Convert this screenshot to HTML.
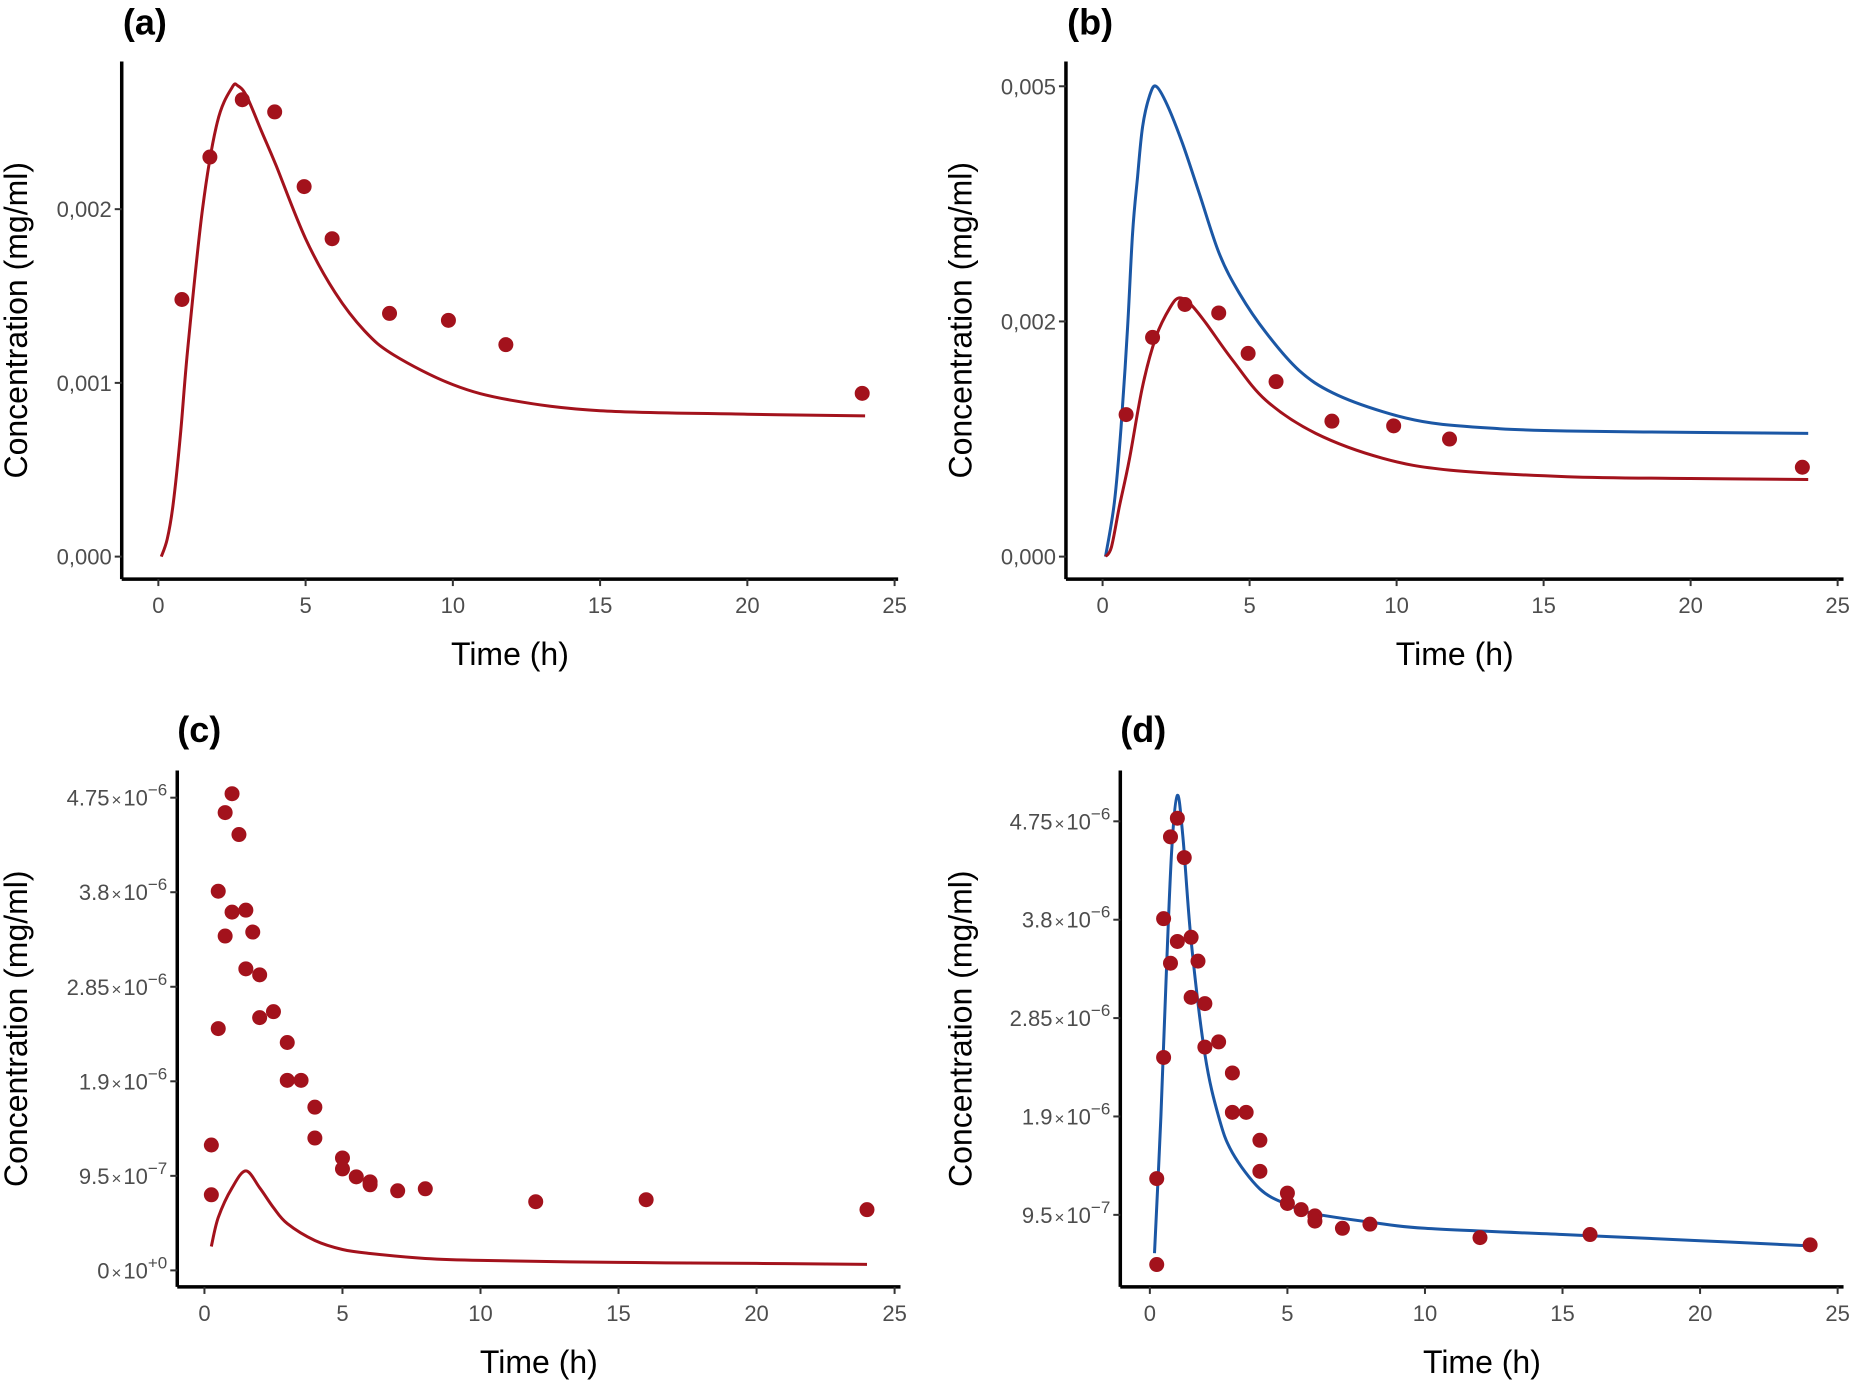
<!DOCTYPE html>
<html><head><meta charset="utf-8"><style>
html,body{margin:0;padding:0;background:#fff;}
svg{display:block;font-family:"Liberation Sans",sans-serif;}
</style></head><body>
<svg id="chart" width="1853" height="1384" viewBox="0 0 1853 1384"></svg>
<script>
// ---- Panel (a) data ----
const aObsT=[0.8,1.75,2.85,3.95,4.95,5.9,7.85,9.85,11.8,23.9];
const aObsV=[0.00148,0.0023,0.00263,0.00256,0.00213,0.00183,0.0014,0.00136,0.00122,0.00094];
const aFitT=[0.1,0.3,0.5,0.75,1,1.5,2,2.5,2.7,3,3.5,4,5,6,7,8,10,12,15,20,24];
const aFitV=[0,0.0001,0.0003,0.0007,0.0012,0.002,0.0025,0.0027,0.00271,0.00265,0.00245,0.00225,0.00183,0.00152,0.0013,0.00116,0.00099,0.0009,0.00084,0.00082,0.00081];
// ---- Panel (b) data ----
const bObsT=[0.8,1.7,2.8,3.95,4.95,5.9,7.8,9.9,11.8,23.8];
const bObsV=[0.00151,0.00233,0.00268,0.00259,0.00216,0.00186,0.00144,0.00139,0.00125,0.00095];
const bRedT=[0.1,0.3,0.57,0.91,1.36,1.82,2.3,2.61,3.0,3.52,4.42,5.56,7.25,9.53,11.8,15.8,20,24];
const bRedV=[0,0.0001,0.00053,0.00103,0.00181,0.00234,0.00265,0.00275,0.00268,0.00248,0.00209,0.00166,0.00131,0.001045,0.00092,0.00085,0.00083,0.00082];
const bBlueT=[0.1,0.4,0.63,0.85,1.02,1.19,1.36,1.6,1.82,2.2,2.72,3.29,3.97,4.65,5.56,6.68,7.83,9.53,11.2,13.5,15.8,20,24];
const bBlueV=[0,0.00057,0.00138,0.00244,0.00344,0.00404,0.00457,0.0049,0.005,0.0048,0.00439,0.00386,0.00322,0.0028,0.00238,0.00198,0.00174,0.00154,0.00142,0.00136,0.001335,0.00132,0.00131];
// ---- Panel (c)/(d) observed ----
const cObsT=[0.25,0.25,0.5,0.5,0.75,0.75,1,1,1.25,1.5,1.5,1.75,2,2,2.5,3,3,3.5,4,4,5,5,5.5,6,6,7,8,12,16,24];
const cObsV=[0.76e-6,1.26e-6,2.43e-6,3.81e-6,3.36e-6,4.6e-6,3.6e-6,4.79e-6,4.38e-6,3.62e-6,3.03e-6,3.4e-6,2.97e-6,2.54e-6,2.6e-6,2.29e-6,1.91e-6,1.91e-6,1.64e-6,1.33e-6,1.13e-6,1.02e-6,0.94e-6,0.89e-6,0.86e-6,0.8e-6,0.82e-6,0.69e-6,0.71e-6,0.61e-6];
const cFitT=[0.25,0.5,1,1.5,2,2.5,3,4,5,6,8,10,15,20,24];
const cFitV=[0.24e-6,0.53e-6,0.83e-6,1.0e-6,0.83e-6,0.63e-6,0.47e-6,0.3e-6,0.21e-6,0.17e-6,0.12e-6,0.1e-6,0.08e-6,0.07e-6,0.06e-6];
const dObsV=[0.47e-6,1.3e-6,2.47e-6,3.81e-6,3.38e-6,4.6e-6,3.59e-6,4.78e-6,4.4e-6,3.63e-6,3.05e-6,3.4e-6,2.99e-6,2.57e-6,2.62e-6,2.32e-6,1.94e-6,1.94e-6,1.67e-6,1.37e-6,1.16e-6,1.06e-6,1.0e-6,0.94e-6,0.89e-6,0.82e-6,0.86e-6,0.73e-6,0.76e-6,0.66e-6];
const dFitT=[0.17,0.4,0.6,0.8,1.0,1.2,1.5,2,2.5,3,4,5,6,8,10,15,20,24];
const dFitV=[0.58e-6,1.9e-6,3.3e-6,4.5e-6,5.0e-6,4.6e-6,3.6e-6,2.5e-6,1.9e-6,1.55e-6,1.2e-6,1.05e-6,0.96e-6,0.88e-6,0.82e-6,0.76e-6,0.7e-6,0.65e-6];
// ---- Tick labels ----
const xTicks=[0,5,10,15,20,25];
const aTicks=[0,0.001,0.002];
const aLabels=["0,000","0,001","0,002"];
const bTicks=[0,0.0025,0.005];
const bLabels=["0,000","0,002","0,005"];
const cTicks=[0,0.95e-6,1.9e-6,2.85e-6,3.8e-6,4.75e-6];
const cMant=["0","9.5","1.9","2.85","3.8","4.75"];
const cExp=["+0","\u22127","\u22126","\u22126","\u22126","\u22126"];
const dTicks=[0.95e-6,1.9e-6,2.85e-6,3.8e-6,4.75e-6];
const dMant=["9.5","1.9","2.85","3.8","4.75"];
const dExp=["\u22127","\u22126","\u22126","\u22126","\u22126"];

const S=1853/1568;
const RED="#a3121c", BLUE="#1b57a5";
const svg=document.getElementById('chart');
const NS="http://www.w3.org/2000/svg";
function mk(tag,attrs,parent){const e=document.createElementNS(NS,tag);for(const k in attrs)e.setAttribute(k,attrs[k]);(parent||svg).appendChild(e);return e;}
function smooth(pts){
  let d='M'+pts[0][0].toFixed(1)+','+pts[0][1].toFixed(1);
  for(let i=0;i<pts.length-1;i++){
    const p0=pts[i-1]||pts[i],p1=pts[i],p2=pts[i+1],p3=pts[i+2]||p2;
    const c1=[p1[0]+(p2[0]-p0[0])/6,p1[1]+(p2[1]-p0[1])/6];
    const c2=[p2[0]-(p3[0]-p1[0])/6,p2[1]-(p3[1]-p1[1])/6];
    d+=`C${c1[0].toFixed(1)},${c1[1].toFixed(1)} ${c2[0].toFixed(1)},${c2[1].toFixed(1)} ${p2[0].toFixed(1)},${p2[1].toFixed(1)}`;
  }
  return d;
}

function panel(cfg){
  const g=mk('g',{});
  
  
  const xs=t=>S*(cfg.x0+(cfg.x25-cfg.x0)*t/25);
  const ys=v=>S*(cfg.yA+(cfg.yB-cfg.yA)*(v-cfg.vA)/(cfg.vB-cfg.vA));
  const lab=mk('text',{x:S*cfg.lx,y:S*cfg.ly,'font-size':36,'font-weight':'bold',fill:'#000'},g);
  lab.textContent='('+cfg.id+')';
  
  
  const ya=mk('line',{x1:S*cfg.ax,y1:S*cfg.top,x2:S*cfg.ax,y2:S*cfg.bot,stroke:'#000','stroke-width':3.5},g);
  
  
  const xa=mk('line',{x1:S*cfg.ax,y1:S*cfg.bot,x2:S*cfg.right,y2:S*cfg.bot,stroke:'#000','stroke-width':3.5},g);
  
  
  xTicks.forEach(t=>{
    mk('line',{x1:xs(t),x2:xs(t),y1:S*cfg.bot,y2:S*cfg.bot+7,stroke:'#333','stroke-width':2},g);
    const tx=mk('text',{x:xs(t),y:S*cfg.bot+34,'font-size':22,fill:'#4d4d4d','text-anchor':'middle'},g);
    tx.textContent=t;
    
    
  });
  cfg.yt.forEach((v,i)=>{
    const y=ys(v);
    mk('line',{x1:S*cfg.ax-7,x2:S*cfg.ax,y1:y,y2:y,stroke:'#333','stroke-width':2},g);
    const tx=mk('text',{x:S*cfg.ax-10,y:y+8,'font-size':22,fill:'#4d4d4d','text-anchor':'end'},g);
    
    
    if(cfg.mant){
      const a=mk('tspan',{},tx);a.textContent=cfg.mant[i];
      const b=mk('tspan',{'font-size':17,dx:2},tx);b.textContent='\u00d7';
      const c=mk('tspan',{dx:2},tx);c.textContent='10';
      const d=mk('tspan',{'font-size':17,dy:-10},tx);d.textContent=cfg.exp[i];
    } else tx.textContent=cfg.labels[i];
  });
  const cy=S*(cfg.top+cfg.bot)/2;
  const yt=mk('text',{x:0,y:0,'font-size':32,fill:'#000','text-anchor':'middle',transform:`translate(${S*cfg.tx},${cy}) rotate(-90)`},g);
  yt.textContent='Concentration (mg/ml)';
  
  
  const xt=mk('text',{x:S*(cfg.ax+cfg.right)/2,y:S*cfg.bot+86,'font-size':32,fill:'#000','text-anchor':'middle'},g);
  xt.textContent='Time (h)';
  
  
  cfg.lines.forEach(L=>{
    const pts=L.t.map((t,i)=>[xs(t),ys(L.v[i])]);
    const p=mk('path',{d:smooth(pts),fill:'none',stroke:L.c,'stroke-width':3,'stroke-linejoin':'round'},g);
    
    
  });
  cfg.obsT.forEach((t,i)=>{
    const c=mk('circle',{cx:xs(t),cy:ys(cfg.obsV[i]),r:7.5,fill:RED},g);
    
    
  });
}
panel({id:'a',lx:104,ly:29,ax:103,tx:23,top:52,bot:490,right:760,x0:134,x25:757,yA:471,yB:177,vA:0,vB:0.002,yt:aTicks,labels:aLabels,
  obsT:aObsT,obsV:aObsV,lines:[{t:aFitT,v:aFitV,c:RED,n:'predicted-curve-red'}]});
panel({id:'b',lx:903,ly:29,ax:902,tx:822,top:52,bot:490,right:1560,x0:933,x25:1555,yA:471,yB:73,vA:0,vB:0.005,yt:bTicks,labels:bLabels,
  obsT:bObsT,obsV:bObsV,lines:[{t:bBlueT,v:bBlueV,c:BLUE,n:'predicted-curve-blue'},{t:bRedT,v:bRedV,c:RED,n:'predicted-curve-red'}]});
panel({id:'c',lx:150,ly:628,ax:150,tx:23,top:652,bot:1089,right:762,x0:173,x25:757,yA:1075,yB:675,vA:0,vB:4.75e-6,yt:cTicks,mant:cMant,exp:cExp,
  obsT:cObsT,obsV:cObsV,lines:[{t:cFitT,v:cFitV,c:RED,n:'predicted-curve-red'}]});
panel({id:'d',lx:948,ly:628,ax:948,tx:822,top:652,bot:1089,right:1560,x0:973,x25:1555,yA:1028,yB:695,vA:0.95e-6,vB:4.75e-6,yt:dTicks,mant:dMant,exp:dExp,
  obsT:cObsT,obsV:dObsV,lines:[{t:dFitT,v:dFitV,c:BLUE,n:'predicted-curve-blue'}]});
</script>
</body></html>
